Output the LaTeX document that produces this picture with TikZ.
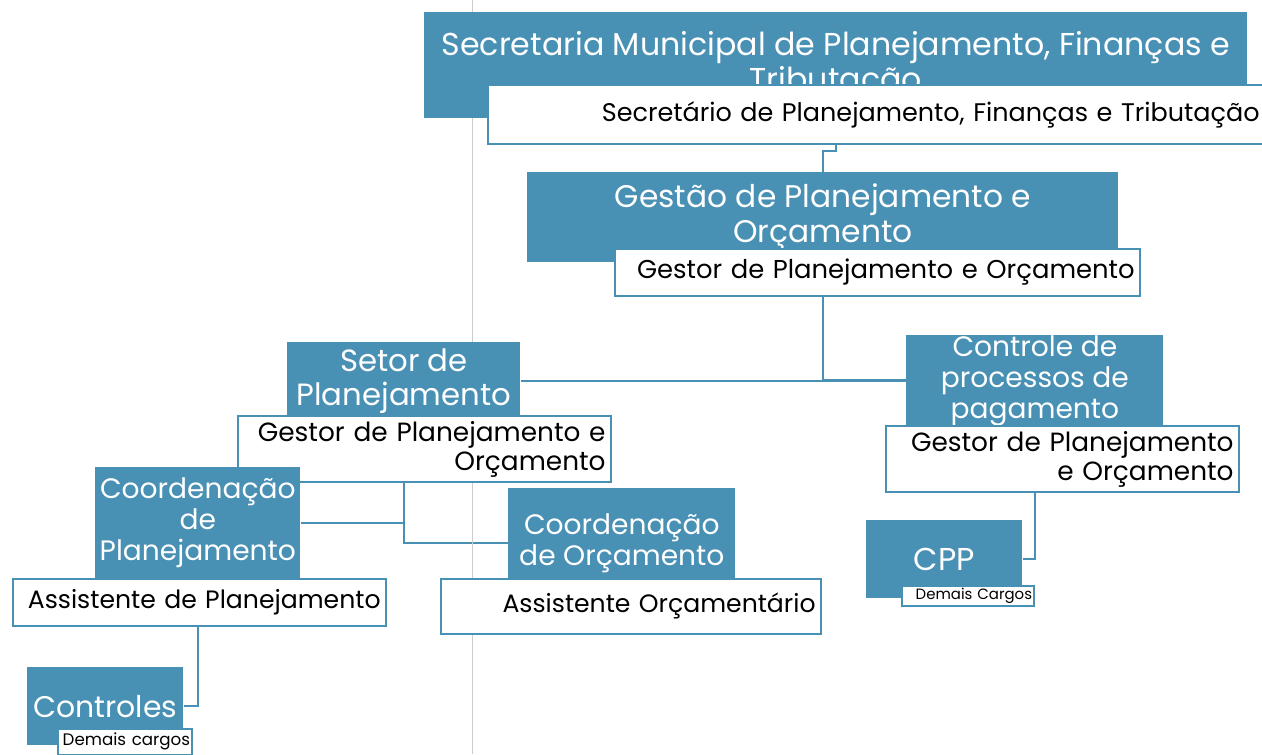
\documentclass[tikz,border=0pt]{standalone}
\usepackage{fontspec}
\setmainfont{Poppins}
\usetikzlibrary{backgrounds}
\definecolor{azul}{RGB}{72,144,180}
\newcommand{\fs}[1]{\fontsize{#1}{1.1\dimexpr#1pt\relax}\selectfont}
\tikzset{orgao/.style 2 args={fill=azul,text=white,anchor=north west,minimum width=#1*.2mm,minimum height=#2*.2mm,inner sep=0pt,align=center},
cargo/.style 2 args={draw=azul,line width=1pt,fill=white,anchor=north west,minimum height=#2*.2mm,text width=#1*.2mm-6pt,inner sep=3pt,align=right},
linha/.style={azul,line width=1.2pt}}

\begin{document}
\begin{tikzpicture}[x=.2mm,y=-.2mm]
\useasboundingbox (0,0) rectangle (1262,754);
\draw[black!20] (472,0)--(472,754);
% secretaria
\node[orgao={823}{106},font=\fs{18}] (sec) at (424,12) {Secretaria Municipal de Planejamento, Finanças e\\Tributação};
\node[cargo={777}{59},font=\fs{14.5}] (secw) at (487,84) {Secretário de Planejamento, Finanças e Tributação};
% gestao
\node[orgao={591}{90},font=\fs{17.8}] (gpo) at (527,172) {Gestão de Planejamento e\\Orçamento};
\node[cargo={525}{47},font=\fs{14.7}] (gpow) at (614,248) {Gestor de Planejamento e Orçamento};
% setores
\node[orgao={233}{78},font=\fs{17.5}] (setor) at (287,342) {Setor de\\Planejamento};
\node[cargo={373}{50},font=\fs{15}] (setorw) at (237,415) {Gestor de Planejamento e\\Orçamento};
\node[orgao={257}{90},font=\fs{16}] (ctrl) at (906,335) {Controle de\\processos de\\pagamento};
\node[cargo={353}{60},font=\fs{15}] (ctrlw) at (885,425) {Gestor de Planejamento\\e Orçamento};
\node[orgao={156}{78},font=\fs{18}] (cpp) at (866,520) {CPP};
\node[cargo={139}{20},font=\fs{8.5},inner sep=1pt] (cppw) at (901,585) {Demais Cargos};
% coordenacoes
\node[orgao={205}{111},font=\fs{16}] (cplan) at (95,467) {Coordenação\\de\\Planejamento};
\node[cargo={373}{47},font=\fs{14.3}] (cplanw) at (12,578) {Assistente de Planejamento};
\node[orgao={227}{110},font=\fs{16}] (corc) at (508,488) {Coordenação\\de Orçamento};
\node[cargo={380}{55},font=\fs{14.3}] (corcw) at (440,578) {Assistente Orçamentário};
\node[orgao={156}{78},font=\fs{17}] (contr) at (27,667) {Controles};
\node[cargo={141}{26},font=\fs{9.5},inner sep=1pt] (contrw) at (57,728) {Demais cargos};
\begin{pgfonlayer}{background}
\draw[linha] (sec.south) -- ++(0,32) -| (gpo.north);
\draw[linha] (gpo.south) |- (setor.east);
\draw[linha] (gpo.south) |- (ctrl.west);
\draw[linha] (setor.south) |- (cplan.east);
\draw[linha] (setor.south) |- (corc.west);
\draw[linha] (ctrl.south) |- (cpp.east);
\draw[linha] (cplan.south) |- (contr.east);
\end{pgfonlayer}
\end{tikzpicture}
\end{document}
